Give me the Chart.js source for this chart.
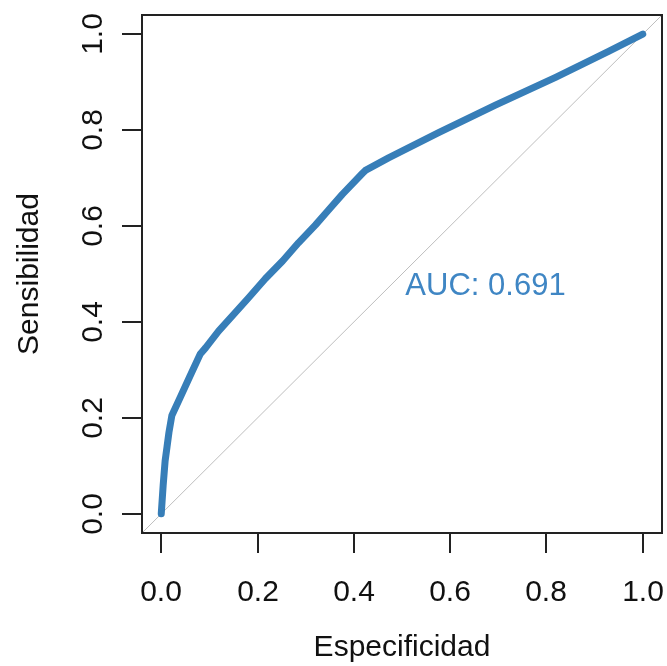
<!DOCTYPE html>
<html>
<head>
<meta charset="utf-8">
<script src="https://cdn.jsdelivr.net/npm/chart.js@4/dist/chart.umd.min.js"></script>
<style>
    body { margin: 0; background: #ffffff; }
    #wrap { width: 667px; height: 666px; }
</style>
</head>
<body>
<div id="wrap"><canvas id="rocChart" width="667" height="666"></canvas></div>
<script>
// ROC curve points
const especificidad = [0, 0.004, 0.008, 0.012, 0.016, 0.022, 0.04, 0.06, 0.081, 0.092, 0.119, 0.181, 0.216, 0.252, 0.285, 0.320, 0.347, 0.376, 0.418, 0.424, 0.472, 0.576, 0.694, 0.819, 0.929, 1];
const sensibilidad  = [0, 0.06, 0.11, 0.14, 0.17, 0.205, 0.244, 0.288, 0.333, 0.346, 0.381, 0.450, 0.490, 0.527, 0.565, 0.602, 0.633, 0.666, 0.710, 0.716, 0.742, 0.795, 0.852, 0.910, 0.964, 1];

// Axis ticks and labels
const xTicks = [0, 0.2, 0.4, 0.6, 0.8, 1];
const yTicks = [0, 0.2, 0.4, 0.6, 0.8, 1];
const xTitle = 'Especificidad';
const yTitle = 'Sensibilidad';
const aucLabel = 'AUC: 0.691';

const curveColor = '#377EB8';
const textColor = '#111111';
const font = '"Liberation Sans", Arial, sans-serif';

let curvePoints = especificidad.map(function(x, i) {
    return { x: x, y: sensibilidad[i] };
});

// R style box, ticks, labels and AUC text
const rAxesPlugin = {
    id: 'rAxes',
    afterDatasetsDraw: function(chart) {
        const c = chart.ctx;
        const xs = chart.scales.x;
        const ys = chart.scales.y;
        const area = chart.chartArea;

        c.save();
        c.strokeStyle = '#222222';
        c.lineWidth = 2;
        c.strokeRect(area.left, area.top, area.right - area.left, area.bottom - area.top);

        // x ticks
        c.fillStyle = textColor;
        c.font = '30px ' + font;
        c.textAlign = 'center';
        c.textBaseline = 'middle';
        xTicks.forEach(function(v) {
            const px = Math.round(xs.getPixelForValue(v));
            c.beginPath();
            c.moveTo(px, area.bottom);
            c.lineTo(px, area.bottom + 20);
            c.stroke();
            c.fillText(v.toFixed(1), px, 593);
        });

        // y ticks, labels turned like R
        yTicks.forEach(function(v) {
            const py = Math.round(ys.getPixelForValue(v));
            c.beginPath();
            c.moveTo(area.left, py);
            c.lineTo(area.left - 20, py);
            c.stroke();
            c.save();
            c.translate(94, py);
            c.rotate(-Math.PI / 2);
            c.fillText(v.toFixed(1), 0, 0);
            c.restore();
        });

        // axis titles
        c.fillText(xTitle, (xs.getPixelForValue(0) + xs.getPixelForValue(1)) / 2, 648);
        c.save();
        c.translate(30, (ys.getPixelForValue(0) + ys.getPixelForValue(1)) / 2);
        c.rotate(-Math.PI / 2);
        c.fillText(yTitle, 0, 0);
        c.restore();

        // AUC text
        c.fillStyle = '#3F86C4';
        c.font = '31px ' + font;
        c.textAlign = 'left';
        c.fillText(aucLabel, xs.getPixelForValue(0.507), ys.getPixelForValue(0.473));
        c.restore();
    }
};

let ctx = document.getElementById('rocChart').getContext('2d');
let rocChart = new Chart(ctx, {
    type: 'line',
    data: {
        datasets: [{
            label: 'ROC',
            data: curvePoints,
            borderColor: curveColor,
            borderWidth: 7,
            borderJoinStyle: 'round',
            borderCapStyle: 'round',
            pointRadius: 0,
            tension: 0,
            fill: false
        }, {
            label: 'diagonal',
            data: [{ x: -0.04, y: -0.04 }, { x: 1.04, y: 1.04 }],
            borderColor: '#BEBEBE',
            borderWidth: 1,
            pointRadius: 0,
            tension: 0,
            fill: false
        }]
    },
    options: {
        responsive: false,
        animation: false,
        layout: {
            padding: { left: 142, right: 5, top: 15, bottom: 133 }
        },
        scales: {
            x: { type: 'linear', min: -0.04, max: 1.04, display: false },
            y: { type: 'linear', min: -0.04, max: 1.04, display: false }
        },
        plugins: {
            legend: { display: false },
            tooltip: { enabled: false }
        }
    },
    plugins: [rAxesPlugin]
});
</script>
</body>
</html>
